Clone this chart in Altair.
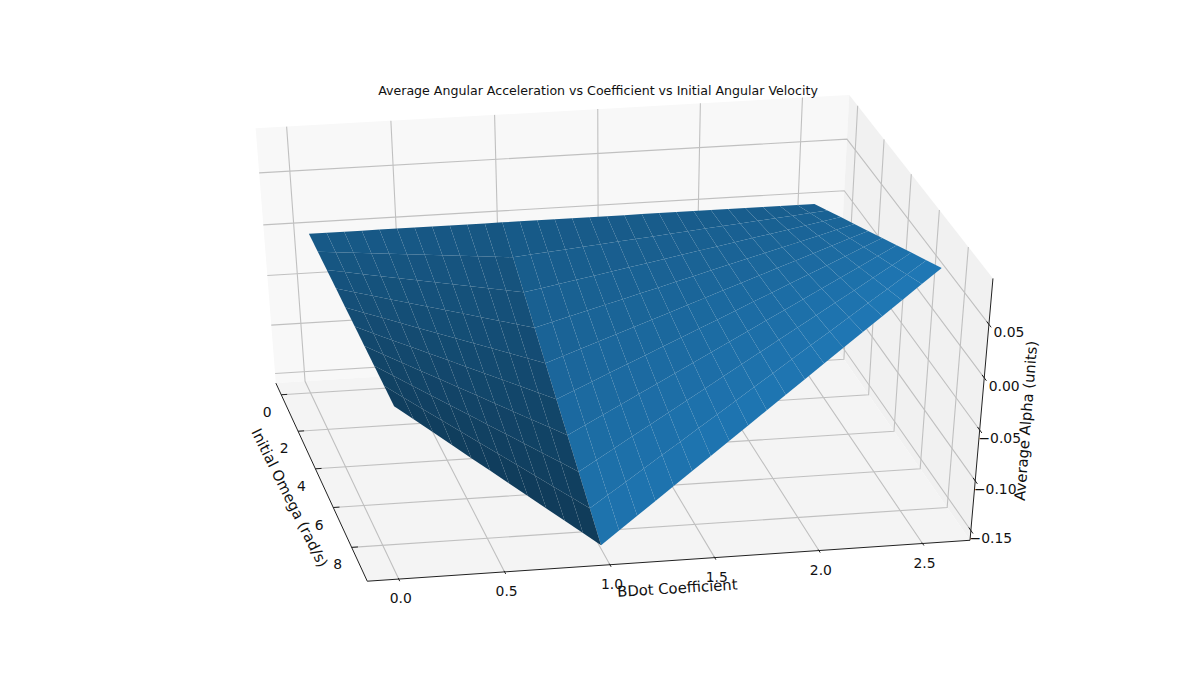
import math
import altair as alt
import pandas as pd

TITLE = "Average Angular Acceleration vs Coefficient vs Initial Angular Velocity"
X_LABEL = "BDot Coefficient"
Y_LABEL = "Initial Omega (rad/s)"
Z_LABEL = "Average Alpha (units)"

OMEGA = [0, 1, 2, 3, 4, 5, 6, 7, 8, 9]
BDOT = [0.047, 0.133, 0.219, 0.305, 0.391, 0.477, 0.563, 0.649, 0.735, 0.821,
        0.907, 0.993, 1.079, 1.165, 1.251, 1.337, 1.423, 1.509, 1.595, 1.681,
        1.766, 1.852, 1.938, 2.024, 2.110, 2.196, 2.282, 2.368, 2.454, 2.54]
ALPHA_0 = [0.0] * 30
ALPHA_1 = [-.0004, -.0020, -.0035, -.0050, -.0065, -.0080, -.0095, -.0110, -.0125, -.0140, -.0155, -.0171, -.0155, -.0140, -.0125, -.0110, -.0095, -.0079, -.0064, -.0049, -.0034, -.0019, -.0003, .0012, .0027, .0042, .0057, .0072, .0088, .0103]
ALPHA_2 = [-.0009, -.0039, -.0069, -.0100, -.0130, -.0160, -.0190, -.0220, -.0250, -.0281, -.0311, -.0341, -.0311, -.0280, -.0250, -.0220, -.0189, -.0159, -.0128, -.0098, -.0068, -.0037, -.0007, .0023, .0054, .0084, .0114, .0145, .0175, .0206]
ALPHA_3 = [-.0013, -.0059, -.0104, -.0149, -.0195, -.0240, -.0285, -.0330, -.0376, -.0421, -.0466, -.0512, -.0466, -.0421, -.0375, -.0329, -.0284, -.0238, -.0193, -.0147, -.0102, -.0056, -.0010, .0035, .0081, .0126, .0172, .0217, .0263, .0308]
ALPHA_4 = [-.0018, -.0078, -.0139, -.0199, -.0260, -.0320, -.0380, -.0440, -.0501, -.0561, -.0622, -.0682, -.0621, -.0561, -.0500, -.0439, -.0379, -.0318, -.0257, -.0196, -.0136, -.0075, -.0014, .0047, .0108, .0168, .0229, .0290, .0351, .0411]
ALPHA_5 = [-.0022, -.0098, -.0174, -.0249, -.0325, -.0400, -.0475, -.0551, -.0626, -.0702, -.0777, -.0853, -.0777, -.0701, -.0625, -.0549, -.0474, -.0397, -.0321, -.0245, -.0170, -.0094, -.0017, .0058, .0135, .0211, .0286, .0362, .0439, .0514]
ALPHA_6 = [-.0026, -.0118, -.0208, -.0299, -.0389, -.0480, -.0570, -.0661, -.0751, -.0842, -.0932, -.1024, -.0932, -.0841, -.0750, -.0659, -.0568, -.0476, -.0385, -.0294, -.0203, -.0112, -.0020, .0070, .0161, .0253, .0343, .0434, .0526, .0617]
ALPHA_7 = [-.0031, -.0137, -.0243, -.0349, -.0454, -.0560, -.0665, -.0771, -.0876, -.0982, -.1088, -.1194, -.1087, -.0981, -.0875, -.0769, -.0663, -.0556, -.0449, -.0343, -.0237, -.0131, -.0024, .0082, .0188, .0295, .0400, .0507, .0614, .0720]
ALPHA_8 = [-.0035, -.0157, -.0278, -.0398, -.0519, -.0640, -.0760, -.0881, -.1002, -.1122, -.1243, -.1365, -.1242, -.1122, -.1000, -.0878, -.0758, -.0635, -.0514, -.0392, -.0271, -.0150, -.0027, .0094, .0215, .0337, .0458, .0579, .0702, .0822]
ALPHA_9 = [-.0040, -.0176, -.0312, -.0448, -.0584, -.0720, -.0855, -.0991, -.1127, -.1263, -.1399, -.1535, -.1398, -.1262, -.1125, -.0988, -.0852, -.0715, -.0578, -.0441, -.0305, -.0168, -.0031, .0105, .0242, .0379, .0515, .0652, .0789, .0925]
ALPHA = [ALPHA_0, ALPHA_1, ALPHA_2, ALPHA_3, ALPHA_4, ALPHA_5, ALPHA_6, ALPHA_7, ALPHA_8, ALPHA_9]

BDOT_TICKS = [0.0, 0.5, 1.0, 1.5, 2.0, 2.5]
BDOT_TICK_LABELS = ["0.0", "0.5", "1.0", "1.5", "2.0", "2.5"]
OMEGA_TICKS = [0, 2, 4, 6, 8]
OMEGA_TICK_LABELS = ["0", "2", "4", "6", "8"]
ALPHA_TICKS = [-0.15, -0.10, -0.05, 0.0, 0.05]
ALPHA_TICK_LABELS = ["\u22120.15", "\u22120.10", "\u22120.05", "0.00", "0.05"]

OMEGA_LIM = (-0.65, 9.65)
BDOT_LIM = (-0.148, 2.73)
ALPHA_LIM = (-0.16, 0.092)

# camera
ELEV, AZIM, DIST = math.radians(37.0), math.radians(-11.0), 10.0
CX, CY, SX, SY = 612.3, 334.0, 6093.0, 3232.0
W, H = 1180, 652


def project(o, b, a):
    px = (o - OMEGA_LIM[0]) / (OMEGA_LIM[1] - OMEGA_LIM[0]) - 0.5
    py = (b - BDOT_LIM[0]) / (BDOT_LIM[1] - BDOT_LIM[0]) - 0.5
    pz = (a - ALPHA_LIM[0]) / (ALPHA_LIM[1] - ALPHA_LIM[0]) - 0.5
    ce, se, ca, sa = math.cos(ELEV), math.sin(ELEV), math.cos(AZIM), math.sin(AZIM)
    pr = -sa * px + ca * py
    pv = -se * ca * px - se * sa * py + ce * pz
    pd = ce * ca * px + ce * sa * py + se * pz
    w = DIST - pd
    return CX + SX * pr / w, CY - SY * pv / w, w


XS = alt.X("x:Q", scale=alt.Scale(domain=[8, 8 + W]), axis=None)
YS = alt.Y("y:Q", scale=alt.Scale(domain=[8 + H, 8]), axis=None)


def polyline_table(paths):
    rows = []
    for i, path in enumerate(paths):
        for k, p in enumerate(path):
            x, y, _ = project(*p)
            rows.append({"id": i, "k": k, "x": x, "y": y})
    return pd.DataFrame(rows)


def lines(paths, color, width):
    return alt.Chart(polyline_table(paths)).mark_line(
        color=color, strokeWidth=width, clip=False
    ).encode(x=XS, y=YS, detail="id:N", order="k:Q")


o0, o1 = OMEGA_LIM
b0, b1 = BDOT_LIM
a0, a1 = ALPHA_LIM

# panes
pane_rows = []
PANES = [
    ([(o0, b0, a0), (o0, b1, a0), (o0, b1, a1), (o0, b0, a1)], "#f8f8f8"),
    ([(o0, b1, a0), (o1, b1, a0), (o1, b1, a1), (o0, b1, a1)], "#f1f1f1"),
    ([(o0, b0, a0), (o0, b1, a0), (o1, b1, a0), (o1, b0, a0)], "#f4f4f4"),
]
for i, (pts, col) in enumerate(PANES):
    for k, p in enumerate(pts):
        x, y, _ = project(*p)
        pane_rows.append({"id": i, "k": k, "x": x, "y": y, "fill": col})

# surface cells, far ones first, shaded from their normals
raw = []
for i in range(len(OMEGA) - 1):
    for j in range(len(BDOT) - 1):
        do = OMEGA[i + 1] - OMEGA[i]
        db = BDOT[j + 1] - BDOT[j]
        dzo = 0.5 * ((ALPHA[i + 1][j] - ALPHA[i][j]) + (ALPHA[i + 1][j + 1] - ALPHA[i][j + 1])) / do
        dzb = 0.5 * ((ALPHA[i][j + 1] - ALPHA[i][j]) + (ALPHA[i + 1][j + 1] - ALPHA[i + 1][j])) / db
        shade = (dzo + dzb + 0.5) / (1.5 * math.sqrt(dzo ** 2 + dzb ** 2 + 1))
        corners = [(i, j), (i, j + 1), (i + 1, j + 1), (i + 1, j)]
        pts = [project(OMEGA[a], BDOT[c], ALPHA[a][c]) for a, c in corners]
        raw.append((sum(p[2] for p in pts) / 4, shade, pts))
raw.sort(key=lambda t: -t[0])
smin, smax = min(t[1] for t in raw), max(t[1] for t in raw)
BASE = (31, 119, 180)
cell_rows = []
for cid, (_, shade, pts) in enumerate(raw):
    f = 0.5 + 0.5 * (shade - smin) / (smax - smin)
    col = "#%02x%02x%02x" % tuple(int(round(c * f)) for c in BASE)
    for k, p in enumerate(pts):
        cell_rows.append({"id": cid, "k": k, "x": p[0], "y": p[1], "fill": col})


def polys(rows):
    return alt.Chart(pd.DataFrame(rows)).mark_line(
        filled=True, strokeWidth=0, clip=False
    ).encode(x=XS, y=YS, detail="id:N", order="k:Q", fill=alt.Fill("fill:N", scale=None))


# grid
grid_paths = []
for t in BDOT_TICKS:
    grid_paths.append([(o1, t, a0), (o0, t, a0), (o0, t, a1)])
for t in OMEGA_TICKS:
    grid_paths.append([(t, b0, a0), (t, b1, a0), (t, b1, a1)])
for t in ALPHA_TICKS:
    grid_paths.append([(o0, b0, t), (o0, b1, t), (o1, b1, t)])

axis_paths = [
    [(o1, b0, a0), (o1, b1, a0)],
    [(o0, b0, a0), (o1, b0, a0)],
    [(o1, b1, a0), (o1, b1, a1)],
]
tick_paths = []
for t in BDOT_TICKS:
    tick_paths.append([(o1 - 0.05, t, a0), (o1 + 0.1, t, a0)])
for t in OMEGA_TICKS:
    tick_paths.append([(t, b0, a0), (t, b0 + 0.03, a0)])
for t in ALPHA_TICKS:
    tick_paths.append([(o1 - 0.15, b1, t), (o1 + 0.15, b1, t)])


def labels(ticks, texts, place, dx, dy):
    rows = []
    for t, s in zip(ticks, texts):
        x, y, _ = project(*place(t))
        rows.append({"x": x, "y": y, "t": s})
    return alt.Chart(pd.DataFrame(rows)).mark_text(
        font="DejaVu Sans", fontSize=13.9, color="#111111", dx=dx, dy=dy,
        align="center", baseline="middle"
    ).encode(x=XS, y=YS, text="t:N")


def axis_title(text, at, angle):
    x, y, _ = project(*at)
    return alt.Chart(pd.DataFrame([{"x": x, "y": y, "t": text}])).mark_text(
        font="DejaVu Sans", fontSize=14.8, color="#111111", angle=angle,
        align="center", baseline="middle"
    ).encode(x=XS, y=YS, text="t:N")


layers = [
    polys(pane_rows),
    lines(grid_paths, "#c0c0c0", 1.1),
    polys(cell_rows),
    lines(axis_paths, "#222222", 1.0),
    lines(tick_paths, "#222222", 1.0),
    labels(BDOT_TICKS, BDOT_TICK_LABELS, lambda t: (o1, t, a0), 2, 20),
    labels(OMEGA_TICKS, OMEGA_TICK_LABELS, lambda t: (t, b0, a0), -14, 18),
    labels(ALPHA_TICKS, ALPHA_TICK_LABELS, lambda t: (o1, b1, t), 20, 9),
    axis_title(X_LABEL, (o1 + 1.35, 1.245, a0), 356.5),
    axis_title(Y_LABEL, (5.4, b0 - 0.19, a0), 63.5),
    axis_title(Z_LABEL, (o1, b1 + 0.221, -0.044), 274.5),
]

chart = alt.layer(*layers).properties(
    width=W, height=H, padding=0, autosize=alt.AutoSizeParams(type="none"),
    title=alt.TitleParams(TITLE, anchor="middle", font="DejaVu Sans", fontSize=12.6,
                          fontWeight="normal", color="#111111", offset=0, dy=90),
).configure_view(stroke=None)

chart.save("out.html", embed_options={"renderer": "svg", "actions": False})
